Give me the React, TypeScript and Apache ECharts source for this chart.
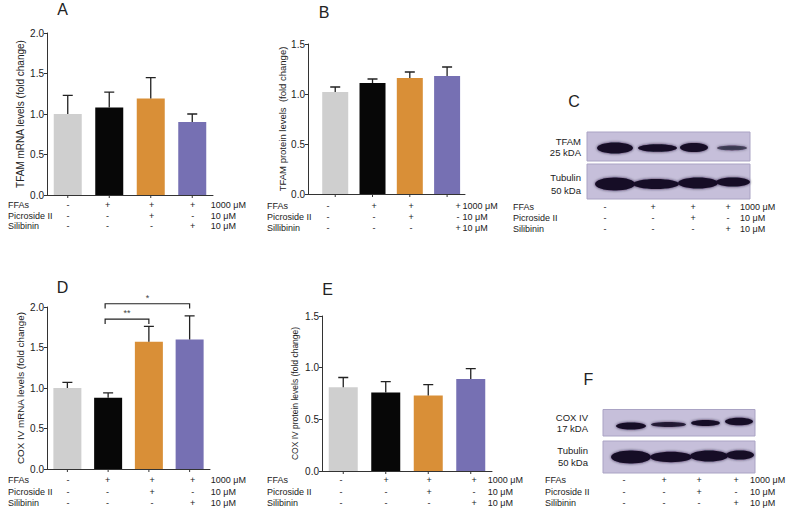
import React, { useEffect, useRef } from "react";
import * as echarts from "echarts";

// ---------------- data ----------------
const groupNames = ["Control", "FFAs", "FFAs + Picroside II", "FFAs + Silibinin"];
const barColors = ["#cfcfcf", "#070707", "#d98f37", "#7670b3"];

const tfamMrnaMean = [1.0, 1.08, 1.19, 0.9];
const tfamMrnaSem = [0.23, 0.19, 0.26, 0.1];
const tfamProteinMean = [1.02, 1.11, 1.16, 1.18];
const tfamProteinSem = [0.05, 0.04, 0.06, 0.09];
const coxMrnaMean = [1.0, 0.88, 1.57, 1.6];
const coxMrnaSem = [0.07, 0.06, 0.19, 0.29];
const coxProteinMean = [0.81, 0.76, 0.73, 0.89];
const coxProteinSem = [0.095, 0.105, 0.105, 0.1];

const coxMrnaBrackets = [
  { from: 1, to: 2, y: 1.85, label: "**" },
  { from: 1, to: 3, y: 2.04, label: "*" },
];

const rowNames = ["FFAs", "Picroside II", "Silibinin"];
const rowNamesB = ["FFAs", "Picroside II", "Sillibinin"];
const treatmentSigns = [
  ["-", "+", "+", "+"],
  ["-", "-", "+", "-"],
  ["-", "-", "-", "+"],
];
const doses = ["1000 μM", "10 μM", "10 μM"];

const yTitleTfamMrna = "TFAM mRNA levels (fold change)";
const yTitleTfamProtein = "TFAM protein levels  (fold change)";
const yTitleCoxMrna = "COX IV mRNA levels (fold change)";
const yTitleCoxProtein = "COX IV protein levels (fold change)";

// ---------------- layout ----------------
const FONT = "'Liberation Sans', Arial, sans-serif";
const INK = "#222";

const panels = [
  { letter: "A", mean: tfamMrnaMean, sem: tfamMrnaSem, yMax: 2, title: yTitleTfamMrna,
    grid: { left: 47, top: 33, width: 166, height: 162 }, xMin: -0.5, xMax: 3.5, barWidth: 28, titleSize: 10, nameGap: 22 },
  { letter: "B", mean: tfamProteinMean, sem: tfamProteinSem, yMax: 1.5, title: yTitleTfamProtein,
    grid: { left: 308, top: 44, width: 157, height: 150 }, xMin: -0.73, xMax: 3.48, barWidth: 26, titleSize: 9.5, nameGap: 17 },
  { letter: "D", mean: coxMrnaMean, sem: coxMrnaSem, yMax: 2, title: yTitleCoxMrna,
    grid: { left: 47, top: 307, width: 163, height: 162 }, xMin: -0.5, xMax: 3.5, barWidth: 28, titleSize: 9.8, nameGap: 22 },
  { letter: "E", mean: coxProteinMean, sem: coxProteinSem, yMax: 1.5, title: yTitleCoxProtein,
    grid: { left: 322, top: 316, width: 170, height: 155 }, xMin: -0.5, xMax: 3.5, barWidth: 29, titleSize: 8.5, nameGap: 23 },
];

const letterPos = [
  { t: "A", x: 62.5, y: 9.5 },
  { t: "B", x: 324, y: 12 },
  { t: "C", x: 574, y: 101 },
  { t: "D", x: 62.5, y: 287.5 },
  { t: "E", x: 327.5, y: 289 },
  { t: "F", x: 588.5, y: 379.5 },
];

const tables = [
  { names: rowNames, rowX: 8, cols: [68, 107.5, 151.5, 192.7], unitX: 210.7, ys: [205, 215.7, 226] },
  { names: rowNamesB, rowX: 267, cols: [328, 374, 411, 458], unitX: 462.5, ys: [206, 217, 228] },
  { names: rowNames, rowX: 513, cols: [605, 653, 693, 728], unitX: 740, ys: [207, 218, 229] },
  { names: rowNames, rowX: 8, cols: [68, 107.5, 152, 192.7], unitX: 210.7, ys: [480, 491.7, 503] },
  { names: rowNames, rowX: 267, cols: [341, 386, 429, 474], unitX: 487.7, ys: [480, 491.7, 503] },
  { names: rowNames, rowX: 545, cols: [624, 664, 699, 736], unitX: 750, ys: [480, 491.7, 503] },
];

const blots = [
  { label: ["TFAM", "25 kDA"], labelX: 581, labelYs: [141, 152.5], rect: [587, 132, 163, 29],
    bands: [[615, 148, 18, 5.5, 1], [657.5, 148, 19.5, 3.8, 1], [694, 147.5, 14, 4.5, 1], [732, 148, 15, 2.4, 0.6]] },
  { label: ["Tubulin", "50 kDa"], labelX: 581, labelYs: [177.5, 190], rect: [587, 164, 163, 35],
    bands: [[615, 184, 20, 6.5, 1], [656, 184, 23, 5, 1], [698, 183, 20, 5.5, 1], [733, 182, 17, 4.5, 1]] },
  { label: ["COX IV", "17 kDA"], labelX: 588, labelYs: [417.5, 428.5], rect: [603, 409.5, 152, 26.5],
    bands: [[631, 426, 15, 3.5, 1], [668.5, 424.5, 17.5, 2.5, 0.85], [705.5, 423, 14.5, 3, 1], [739, 421.5, 14, 3.8, 1]] },
  { label: ["Tubulin", "50 kDa"], labelX: 588, labelYs: [450, 462], rect: [603, 441, 152, 32],
    bands: [[631, 457, 20, 6.5, 1], [671, 457, 21, 5.2, 1], [709, 456, 19, 5.5, 1], [740, 455, 14, 4.5, 1]] },
];

function buildOption() {
  const grid: any[] = [];
  const xAxis: any[] = [];
  const yAxis: any[] = [];
  const series: any[] = [];

  panels.forEach((p, i) => {
    grid.push({ ...p.grid, containLabel: false, outerBoundsMode: "none" });
    xAxis.push({
      gridIndex: i, type: "value", min: p.xMin, max: p.xMax,
      axisLine: { show: true, onZero: false, lineStyle: { color: "#333", width: 1 } },
      axisTick: { show: false }, axisLabel: { show: false }, splitLine: { show: false },
    });
    yAxis.push({
      gridIndex: i, type: "value", min: 0, max: p.yMax, interval: 0.5,
      axisLine: { show: true, onZero: false, lineStyle: { color: "#333", width: 1 } },
      axisTick: { show: true, length: 3, lineStyle: { color: "#333" } },
      axisLabel: { fontSize: 10, color: INK, fontFamily: FONT, margin: 3, formatter: (v: number) => v.toFixed(1) },
      splitLine: { show: false },
      name: p.title, nameLocation: "middle", nameRotate: 90, nameGap: p.nameGap,
      nameTextStyle: { fontSize: p.titleSize, color: INK, fontFamily: FONT },
    });
    series.push({
      type: "bar", name: p.letter, xAxisIndex: i, yAxisIndex: i, barWidth: p.barWidth,
      data: p.mean.map((v, k) => ({ name: groupNames[k], value: [k, v], itemStyle: { color: barColors[k] } })),
      z: 2,
    });
    series.push({
      type: "custom", name: p.letter + " SEM", xAxisIndex: i, yAxisIndex: i, z: 3, clip: false,
      encode: { x: 0, y: [1, 2] },
      data: p.mean.map((v, k) => [k, v, v + p.sem[k]]),
      renderItem: (params: any, api: any) => {
        const k = params.dataIndex;
        const m = p.mean[k];
        const hi = m + p.sem[k];
        const pm = api.coord([k, m]);
        const ph = api.coord([k, hi]);
        const p0 = api.coord([k, 0]);
        return {
          type: "group",
          children: [
            { type: "polyline",
              shape: { points: [[pm[0], pm[1]], [ph[0], ph[1]], [ph[0] - 5, ph[1]], [ph[0] + 5, ph[1]]] },
              style: { stroke: "#222", lineWidth: 1.3, fill: null } },
            { type: "polyline",
              shape: { points: [[p0[0], p0[1]], [p0[0], p0[1] + 3]] },
              style: { stroke: "#333", lineWidth: 1, fill: null } },
          ],
        };
      },
    });
  });

  // significance brackets on panel D (index 2)
  series.push({
    type: "custom", name: "significance", xAxisIndex: 2, yAxisIndex: 2, z: 4, clip: false,
    encode: { x: [0, 2], y: 1 },
    data: coxMrnaBrackets.map((b) => [b.from, b.y, b.to]),
    renderItem: (params: any, api: any) => {
      const b = coxMrnaBrackets[params.dataIndex];
      const l = api.coord([b.from, b.y]);
      const r = api.coord([b.to, b.y]);
      const legY = api.coord([b.from, b.y - 0.06])[1];
      const lx = l[0] - 3;
      return {
        type: "group",
        children: [
          { type: "polyline", shape: { points: [[lx, legY], [lx, l[1]], [r[0], l[1]], [r[0], legY]] },
            style: { stroke: "#222", lineWidth: 1.2, fill: null } },
          { type: "text", x: (lx + r[0]) / 2, y: l[1] - 6,
            style: { text: b.label, fill: "#444", fontSize: 9, fontFamily: FONT, align: "center", verticalAlign: "middle" } },
        ],
      };
    },
  });

  const graphic: any[] = [];
  letterPos.forEach((l) => {
    graphic.push({ type: "text", x: l.x, y: l.y,
      style: { text: l.t, fontSize: 16, fill: INK, fontFamily: FONT, align: "center", verticalAlign: "middle" } });
  });
  tables.forEach((t) => {
    t.ys.forEach((y, r) => {
      graphic.push({ type: "text", x: t.rowX, y,
        style: { text: t.names[r], fontSize: 9, fill: INK, fontFamily: FONT, align: "left", verticalAlign: "middle" } });
      treatmentSigns[r].forEach((s, c) => {
        graphic.push({ type: "text", x: t.cols[c], y,
          style: { text: s, fontSize: 9, fill: INK, fontFamily: FONT, align: "center", verticalAlign: "middle" } });
      });
      graphic.push({ type: "text", x: t.unitX, y,
        style: { text: doses[r], fontSize: 9, fill: INK, fontFamily: FONT, align: "left", verticalAlign: "middle" } });
    });
  });
  blots.forEach((b) => {
    b.label.forEach((txt, k) => {
      graphic.push({ type: "text", x: b.labelX, y: b.labelYs[k],
        style: { text: txt, fontSize: 9.5, fill: INK, fontFamily: FONT, align: "right", verticalAlign: "middle" } });
    });
    const [rx, ry, rw, rh] = b.rect;
    graphic.push({ type: "rect", shape: { x: rx, y: ry, width: rw, height: rh },
      style: { fill: "#c6bfda", stroke: "#aaa3c4", lineWidth: 1 } });
    b.bands.forEach(([cx, cy, erx, ery, op]) => {
      graphic.push({ type: "ellipse", shape: { cx, cy, rx: erx, ry: ery },
        style: { fill: "#140f28", opacity: op, shadowBlur: 3, shadowColor: "rgba(20,15,40,0.8)" } });
    });
  });

  return {
    animation: false,
    backgroundColor: "#ffffff",
    textStyle: { fontFamily: FONT },
    grid, xAxis, yAxis, series, graphic,
  };
}

export default function App() {
  const ref = useRef<HTMLDivElement>(null);
  useEffect(() => {
    if (!ref.current) return;
    const chart = echarts.init(ref.current, null, { renderer: "svg" });
    chart.setOption(buildOption() as any);
    return () => chart.dispose();
  }, []);
  return <div ref={ref} style={{ position: "absolute", left: 0, top: 0, width: 787, height: 511 }} />;
}
